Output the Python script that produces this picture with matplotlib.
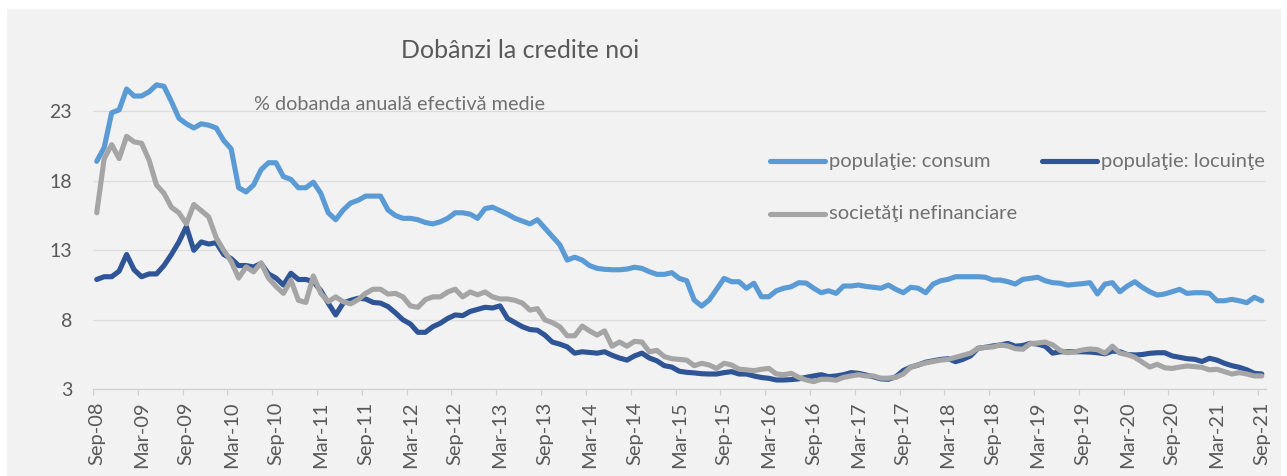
import numpy as np
import matplotlib
matplotlib.use("Agg")
import matplotlib.pyplot as plt
from matplotlib.lines import Line2D
from matplotlib.patches import Rectangle

# date lunare sep-08 ... sep-21
consum = [
    19.4, 20.4, 22.9, 23.1, 24.6, 24.1, 24.1, 24.4, 24.9, 24.8,
    23.7, 22.5, 22.1, 21.8, 22.1, 22.0, 21.8, 20.9, 20.3, 17.5,
    17.2, 17.7, 18.8, 19.3, 19.3, 18.3, 18.1, 17.5, 17.5, 17.9,
    17.1, 15.7, 15.2, 15.9, 16.4, 16.6, 16.9, 16.9, 16.9, 15.9,
    15.5, 15.3, 15.3, 15.2, 15.0, 14.9, 15.05, 15.3, 15.7, 15.7,
    15.6, 15.3, 16.0, 16.1, 15.85, 15.6, 15.3, 15.1, 14.9, 15.2,
    14.6, 14.0, 13.4, 12.3, 12.5, 12.3, 11.9, 11.7, 11.63, 11.6,
    11.6, 11.65, 11.78, 11.7, 11.46, 11.27, 11.27, 11.39, 10.98, 10.81,
    9.42, 8.99, 9.42, 10.19, 10.98, 10.74, 10.74, 10.27, 10.63, 9.66,
    9.66, 10.09, 10.27, 10.38, 10.67, 10.64, 10.27, 9.95, 10.09, 9.9,
    10.43, 10.43, 10.5, 10.4, 10.34, 10.27, 10.5, 10.19, 9.95, 10.34,
    10.27, 9.95, 10.57, 10.81, 10.91, 11.1, 11.1, 11.1, 11.1, 11.06,
    10.86, 10.86, 10.74, 10.57, 10.91, 10.98, 11.06, 10.81, 10.67, 10.63,
    10.5, 10.55, 10.6, 10.67, 9.86, 10.57, 10.67, 10.02, 10.43, 10.74,
    10.34, 10.02, 9.78, 9.86, 10.02, 10.19, 9.9, 9.95, 9.95, 9.9,
    9.37, 9.37, 9.47, 9.37, 9.23, 9.62, 9.37,
]
locuinte = [
    10.9, 11.1, 11.1, 11.5, 12.7, 11.6, 11.1, 11.3, 11.3, 11.9,
    12.7, 13.6, 14.7, 13.0, 13.6, 13.45, 13.55, 12.7, 12.4, 11.9,
    11.9, 11.8, 12.05, 11.3, 11.0, 10.5, 11.35, 10.9, 10.9, 10.75,
    10.1, 9.2, 8.35, 9.2, 9.4, 9.55, 9.5, 9.25, 9.2, 8.95,
    8.5, 8.0, 7.7, 7.1, 7.1, 7.5, 7.75, 8.1, 8.35, 8.3,
    8.6, 8.75, 8.9, 8.85, 9.0, 8.1, 7.8, 7.5, 7.3, 7.25,
    6.9, 6.4, 6.25, 6.05, 5.6, 5.7, 5.65, 5.6, 5.7, 5.45,
    5.25, 5.1, 5.4, 5.6, 5.25, 5.05, 4.7, 4.6, 4.3, 4.22,
    4.18, 4.12, 4.1, 4.1, 4.2, 4.27, 4.1, 4.1, 3.96, 3.85,
    3.79, 3.67, 3.67, 3.7, 3.75, 3.86, 3.96, 4.05, 3.91, 3.96,
    4.05, 4.2, 4.15, 4.03, 3.9, 3.75, 3.72, 3.9, 4.35, 4.6,
    4.75, 4.95, 5.05, 5.15, 5.2, 4.99, 5.16, 5.4, 5.95, 6.02,
    6.12, 6.19, 6.3, 6.1, 6.15, 6.31, 6.25, 6.1, 5.6, 5.7,
    5.7, 5.7, 5.7, 5.68, 5.63, 5.55, 5.75, 5.7, 5.5, 5.47,
    5.5, 5.59, 5.63, 5.63, 5.4, 5.3, 5.2, 5.16, 5.0, 5.23,
    5.1, 4.87, 4.7, 4.58, 4.4, 4.15, 4.1,
]
societati = [
    15.7, 19.6, 20.6, 19.6, 21.2, 20.8, 20.7, 19.5, 17.7, 17.1,
    16.1, 15.7, 14.9, 16.3, 15.85, 15.4, 13.9, 13.0, 12.2, 11.0,
    11.8, 11.45, 12.1, 11.0, 10.4, 9.9, 10.85, 9.4, 9.25, 11.15,
    9.9, 9.3, 9.65, 9.3, 9.15, 9.45, 9.9, 10.2, 10.2, 9.85,
    9.9, 9.65, 9.0, 8.9, 9.45, 9.65, 9.65, 10.0, 10.2, 9.65,
    10.0, 9.8, 10.0, 9.65, 9.5, 9.5, 9.4, 9.2, 8.7, 8.8,
    8.0, 7.8, 7.5, 6.85, 6.85, 7.55, 7.2, 6.9, 7.2, 6.1,
    6.4, 6.1, 6.45, 6.4, 5.7, 5.8, 5.35, 5.2, 5.15, 5.1,
    4.7, 4.87, 4.75, 4.5, 4.87, 4.75, 4.45, 4.4, 4.34, 4.44,
    4.5, 4.1, 4.05, 4.15, 3.86, 3.67, 3.55, 3.72, 3.72, 3.65,
    3.86, 3.96, 4.05, 3.96, 3.96, 3.8, 3.8, 3.86, 4.1, 4.6,
    4.75, 4.9, 5.0, 5.1, 5.15, 5.3, 5.45, 5.6, 5.95, 6.02,
    6.05, 6.19, 6.12, 5.92, 5.88, 6.28, 6.33, 6.4, 6.2, 5.8,
    5.63, 5.7, 5.83, 5.9, 5.85, 5.6, 6.1, 5.6, 5.5, 5.3,
    4.95, 4.6, 4.8, 4.55, 4.5, 4.6, 4.68, 4.63, 4.58, 4.4,
    4.44, 4.27, 4.1, 4.2, 4.1, 3.96, 3.96,
]
etichete_x = ["Sep-08", "Mar-09", "Sep-09", "Mar-10", "Sep-10", "Mar-11", "Sep-11",
              "Mar-12", "Sep-12", "Mar-13", "Sep-13", "Mar-14", "Sep-14", "Mar-15",
              "Sep-15", "Mar-16", "Sep-16", "Mar-17", "Sep-17", "Mar-18", "Sep-18",
              "Mar-19", "Sep-19", "Mar-20", "Sep-20", "Mar-21", "Sep-21"]
nume_serii = ["populaţie: consum", "populaţie: locuinţe", "societăţi nefinanciare"]
culori = ["#5B9BD5", "#2F5597", "#A5A5A5"]

plt.rcParams['font.family'] = ['Lato', 'DejaVu Sans']

W, H = 1287, 476
fig = plt.figure(figsize=(W / 100, H / 100), dpi=100)

# fundal gri al graficului
fig.add_artist(Rectangle((7 / W, 0), (1281 - 7) / W, (H - 9) / H,
                         transform=fig.transFigure, facecolor="#F2F2F2",
                         edgecolor="none", zorder=-10))

ax = fig.add_axes([93 / W, (H - 389.3) / H, 1172.5 / W, 347.5 / H])
ax.set_facecolor("none")

x = np.arange(len(consum))
for serie, c in zip([consum, locuinte, societati], culori):
    ax.plot(x, serie, color=c, lw=3.7, solid_joinstyle="round", solid_capstyle="round")

ax.set_xlim(-0.5, len(consum) - 0.5)
ax.set_ylim(3, 28)
ax.set_yticks([3, 8, 13, 18, 23])
ax.yaxis.grid(True, color="#DCDCDC", lw=0.9)
ax.set_axisbelow(True)
ax.tick_params(axis="y", length=0, pad=15, labelsize=14, labelcolor="#595959")

ax.set_xticks(np.arange(0, len(consum), 6))
ax.set_xticklabels(etichete_x, rotation=90)
ax.set_xticks(np.arange(0, len(consum), 6) - 0.5, minor=True)
ax.tick_params(axis="x", which="major", length=0, pad=9, labelsize=14.4, labelcolor="#595959")
ax.tick_params(axis="x", which="minor", length=4.5, width=0.9, color="#D0D0D0", direction="out")

for s in ["top", "right", "left"]:
    ax.spines[s].set_visible(False)
ax.spines["bottom"].set_color("#D0D0D0")
ax.spines["bottom"].set_linewidth(0.9)

# titlu si subtitlu
fig.text(520 / W, 1 - 50 / H, "Dobânzi la credite noi", ha="center", va="center",
         fontsize=18, color="#595959")
fig.text(254 / W, 1 - 104 / H, "% dobanda anuală efectivă medie", ha="left", va="center",
         fontsize=14.3, color="#707070")

# legenda
poz_legenda = [(770, 161), (1042, 161), (770, 214)]
for (lx, ly), nume, c in zip(poz_legenda, nume_serii, culori):
    fig.add_artist(Line2D([lx / W, (lx + 55) / W], [1 - ly / H, 1 - ly / H],
                          transform=fig.transFigure, color=c, lw=3.7,
                          solid_capstyle="round"))
    fig.text((lx + 59) / W, 1 - ly / H, nume, ha="left", va="center",
             fontsize=14.5, color="#707070")

fig.savefig("out.png", dpi=100)
